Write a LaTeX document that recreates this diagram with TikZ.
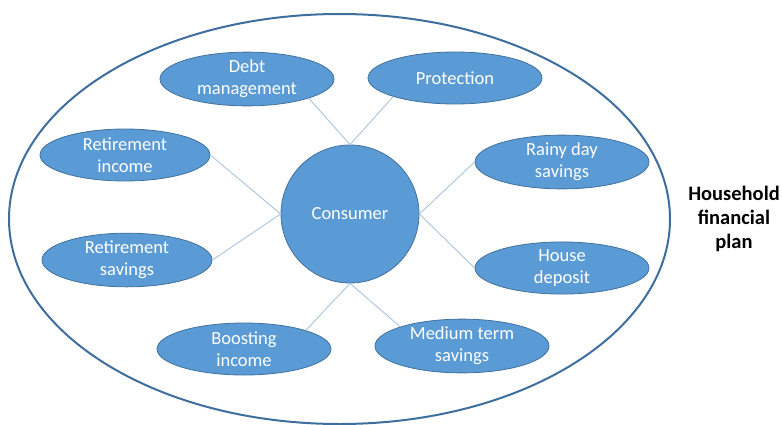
\documentclass[tikz,border=0pt]{standalone}
\usepackage{fontspec}
\setmainfont{Carlito}
\usetikzlibrary{shapes.geometric}
\definecolor{topicfill}{HTML}{5B9BD5}
\definecolor{topicedge}{HTML}{41719C}
\definecolor{linkline}{HTML}{A9C4DE}
\definecolor{outerring}{HTML}{3E6E9E}
\begin{document}
\begin{tikzpicture}[x=1pt,y=-1pt,
  topic/.style={ellipse,draw=topicedge,line width=0.8pt,fill=topicfill,
    text=white,inner sep=0pt,minimum width=174pt,minimum height=52pt,
    align=center,font=\fontsize{18.5}{22}\selectfont},
  hub/.style={circle,draw=topicedge,line width=0.8pt,fill=topicfill,
    text=white,inner sep=0pt,minimum size=138pt,
    font=\fontsize{18.5}{22}\selectfont},
  link/.style={draw=linkline,line width=0.9pt}]
\useasboundingbox (0,0) rectangle (782,424);
% outer household ring
\node[ellipse,draw=outerring,line width=2pt,minimum width=661pt,
  minimum height=410pt,inner sep=0pt] (ring) at (339.5,219) {};
% centre
\node[hub] (consumer) at (350,214) {Consumer};
% topics
\node[topic] (debt) at (247,79) {Debt\\management};
\node[topic] (prot) at (455,78) {Protection};
\node[topic,minimum width=170pt] (rinc) at (125,155) {Retirement\\income};
\node[topic] (rainy) at (562,162) {Rainy day\\savings};
\node[topic,minimum width=170pt] (rsav) at (127,260) {Retirement\\savings};
\node[topic] (house) at (562,268) {House\\deposit};
\node[topic] (boost) at (244,349) {Boosting\\income};
\node[topic] (medium) at (462,346) {Medium term\\savings};
% connectors
\draw[link] (consumer.north) -- (debt.south east);
\draw[link] (consumer.north) -- (prot.south west);
\draw[link] (consumer.west) -- (rinc.east);
\draw[link] (consumer.west) -- (rsav.east);
\draw[link] (consumer.east) -- (rainy.west);
\draw[link] (consumer.east) -- (house.west);
\draw[link] (consumer.south) -- (boost.north east);
\draw[link] (consumer.south) -- (medium.north west);
% caption
\node[align=center,font=\fontsize{20.5}{24}\selectfont\bfseries] (caption)
  at (734,219) {Household\\financial\\plan};
\end{tikzpicture}
\end{document}
